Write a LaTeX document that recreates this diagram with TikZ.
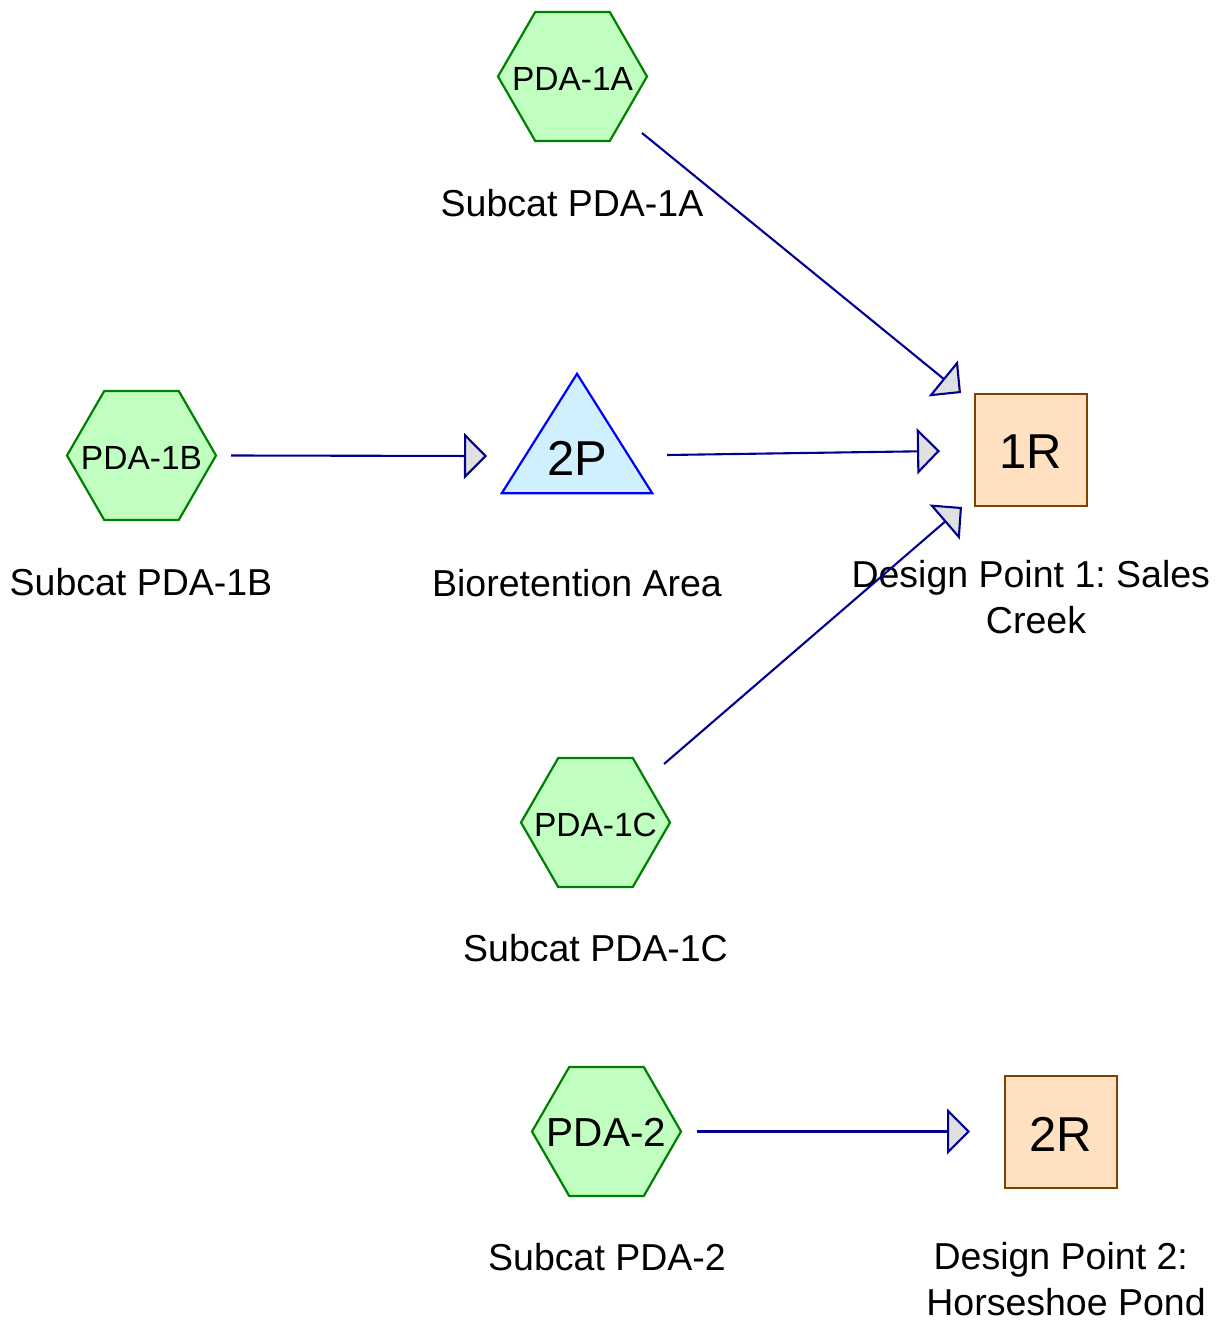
\documentclass[tikz,border=0pt]{standalone}
\usepackage{fontspec}
\setmainfont{Liberation Sans}
\usetikzlibrary{shapes.geometric,arrows.meta}
\frenchspacing

\definecolor{hexfill}{HTML}{C0FFC0}
\definecolor{hexline}{HTML}{008000}
\definecolor{pondfill}{HTML}{D0F0FF}
\definecolor{pondline}{HTML}{0000FF}
\definecolor{reachfill}{HTML}{FFE0C0}
\definecolor{reachline}{HTML}{804000}
\definecolor{flowline}{HTML}{000090}
\definecolor{tipfill}{HTML}{E0E0E0}

\tikzset{
  subcat/.style={regular polygon, regular polygon sides=6, minimum size=149pt,
    inner sep=0pt, fill=hexfill, draw=hexline, line width=2.2pt},
  reach/.style={rectangle, minimum size=112pt, inner sep=0pt,
    fill=reachfill, draw=reachline, line width=2.2pt},
  pondbox/.style={rectangle, minimum width=150pt, minimum height=119pt, inner sep=0pt},
  pond/.style={fill=pondfill, draw=pondline, line width=2.2pt},
  flow/.style={draw=flowline, line width=2.1pt,
    -{Triangle[length=23pt,width=46pt,fill=tipfill]}},
  lbl/.style={font=\fontsize{37.5}{45.5}\selectfont, anchor=base, inner sep=0pt, align=center},
  idsmall/.style={font=\fontsize{33.5}{40}\selectfont, anchor=base, inner sep=0pt},
  idmid/.style={font=\fontsize{40.5}{48}\selectfont, anchor=base, inner sep=0pt},
  idbig/.style={font=\fontsize{49}{58}\selectfont, anchor=base, inner sep=0pt},
}

\begin{document}
\begin{tikzpicture}[x=1pt,y=-1pt]
\useasboundingbox (0,0) rectangle (1225,1322);

% subcatchment PDA-1A
\node[subcat] (s1a) at (572.5,76.5) {};
\node[idsmall] (t1a) at ([shift={(0,14)}]s1a.center) {PDA-1A};
\node[lbl] (l1a) at (572,216.5) {Subcat PDA-1A};

% subcatchment PDA-1B
\node[subcat] (s1b) at (141.5,455.5) {};
\node[idsmall] (t1b) at ([shift={(0,14)}]s1b.center) {PDA-1B};
\node[lbl] (l1b) at (141,595) {Subcat PDA-1B};

% pond 2P
\node[pondbox] (p2) at (577,433.5) {};
\draw[pond] (p2.south west) -- (p2.south east) -- (p2.north) -- cycle;
\node[idbig] (t2p) at (577,475.5) {2P};
\node[lbl] (l2p) at (577,596) {Bioretention Area};

% reach 1R (two-line label: base anchor sits on the last line)
\node[reach] (r1) at (1031,450) {};
\node[idbig] (t1r) at (1031,468) {1R};
\node[lbl] (l1r) at (1036,633) {Design Point 1: Sales\hspace*{.278em}\\Creek};

% subcatchment PDA-1C
\node[subcat] (s1c) at (595.5,822.5) {};
\node[idsmall] (t1c) at ([shift={(0,14)}]s1c.center) {PDA-1C};
\node[lbl] (l1c) at (595.5,961) {Subcat PDA-1C};

% subcatchment PDA-2
\node[subcat] (s2) at (606.5,1131.5) {};
\node[idmid] (t2) at ([shift={(0,15)}]s2.center) {PDA-2};
\node[lbl] (l2) at (607,1270) {Subcat PDA-2};

% reach 2R
\node[reach] (r2) at (1061,1132) {};
\node[idbig] (t2r) at (1061,1151) {2R};
\node[lbl] (l2r) at (1066,1315) {Design Point 2:\hspace*{.278em}\\Horseshoe Pond};

% flow connectors
\draw[flow] ([shift={(69.5,56.5)}]s1a.center) -- ([shift={(-70,-57)}]r1.center);
\draw[flow] ([shift={(89.5,0)}]s1b.center) -- ([shift={(-90,22.5)}]p2.center);
\draw[flow] ([shift={(90,21.5)}]p2.center) -- ([shift={(-91,1)}]r1.center);
\draw[flow] ([shift={(68.5,-58.5)}]s1c.center) -- ([shift={(-69,57)}]r1.center);
\draw[flow] ([shift={(90.5,0)}]s2.center) -- ([shift={(-91,-0.5)}]r2.center);
\end{tikzpicture}
\end{document}
